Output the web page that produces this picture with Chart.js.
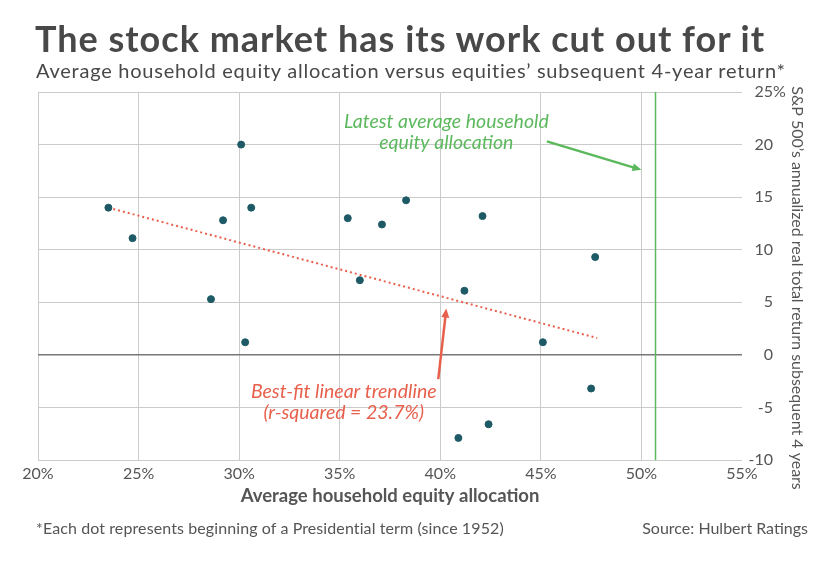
<!DOCTYPE html>
<html>
<head>
<meta charset="utf-8">
<script src="https://cdn.jsdelivr.net/npm/chart.js@4/dist/chart.umd.min.js"></script>
<style>
	body { margin: 0; background: #fff; }
	#wrap { position: relative; width: 831px; height: 566px; font-family: Lato, sans-serif; }
	#wrap canvas { position: absolute; left: 0; top: 0; }
	.txt { position: absolute; white-space: nowrap; line-height: 1; }
	#title { left: 35px; top: 20px; font-size: 36px; font-weight: 700; letter-spacing: 1px; color: #484848; }
	#subtitle { left: 36px; top: 60px; font-size: 20px; letter-spacing: 0.75px; color: #484848; }
	#note { left: 36px; top: 520px; font-size: 16px; letter-spacing: 0.1px; color: #555; }
	#source { right: 23px; top: 520px; font-size: 16px; color: #555; }
</style>
</head>
<body>
<div id="wrap">
	<canvas id="scatter-chart" width="831" height="566"></canvas>
	<div class="txt" id="title">The stock market has its work cut out for it</div>
	<div class="txt" id="subtitle">Average household equity allocation versus equities’ subsequent 4-year return*</div>
	<div class="txt" id="note">*Each dot represents beginning of a Presidential term (since 1952)</div>
	<div class="txt" id="source">Source: Hulbert Ratings</div>
</div>
<script>
// household equity allocation (%) at start of each term
var allocation = [23.5, 24.7, 28.6, 29.2, 30.1, 30.3, 30.6, 35.4, 36.0, 37.1, 38.3, 40.9, 41.2, 42.1, 42.4, 45.1, 47.5, 47.7];
// S&P 500 annualized real total return over next 4 years (%)
var returns = [14.0, 11.1, 5.3, 12.8, 20.0, 1.2, 14.0, 13.0, 7.1, 12.4, 14.7, -7.9, 6.1, 13.2, -6.6, 1.2, -3.2, 9.3];

// best-fit trendline end points
var trendX = [23.5, 47.8];
var trendY = [14.0, 1.6];

// latest average household equity allocation
var latestAllocation = 50.7;

var xTicks = [20, 25, 30, 35, 40, 45, 50, 55];
var yTicks = [-10, -5, 0, 5, 10, 15, 20, 25];

var points = [];
for (var i = 0; i < allocation.length; i++) {
	points.push({ x: allocation[i], y: returns[i] });
}

var trend = [];
for (var j = 0; j < trendX.length; j++) {
	trend.push({ x: trendX[j], y: trendY[j] });
}

var green = "#5cb85c";
var red = "#e8604c";
var grey = "#555";

// text + arrows drawn in data units
var annotations = {
	id: "annotations",
	afterDraw: function(chart) {
		var ctx = chart.ctx;
		var xs = chart.scales.x, ys = chart.scales.y;
		function px(v) { return xs.getPixelForValue(v); }
		function py(v) { return ys.getPixelForValue(v); }

		function arrow(x1, y1, x2, y2, color) {
			var a = Math.atan2(y2 - y1, x2 - x1);
			ctx.save();
			ctx.strokeStyle = color;
			ctx.fillStyle = color;
			ctx.lineWidth = 2.5;
			ctx.beginPath();
			ctx.moveTo(x1, y1);
			ctx.lineTo(x2 - 6 * Math.cos(a), y2 - 6 * Math.sin(a));
			ctx.stroke();
			ctx.beginPath();
			ctx.moveTo(x2, y2);
			ctx.lineTo(x2 - 9 * Math.cos(a) + 4 * Math.sin(a), y2 - 9 * Math.sin(a) - 4 * Math.cos(a));
			ctx.lineTo(x2 - 9 * Math.cos(a) - 4 * Math.sin(a), y2 - 9 * Math.sin(a) + 4 * Math.cos(a));
			ctx.closePath();
			ctx.fill();
			ctx.restore();
		}

		ctx.save();
		ctx.font = "italic 19.5px Lato";
		ctx.textAlign = "center";
		ctx.textBaseline = "middle";
		ctx.fillStyle = green;
		ctx.fillText("Latest average household", px(40.3), py(22.2));
		ctx.fillText("equity allocation", px(40.3), py(20.2));
		ctx.fillStyle = red;
		ctx.fillText("Best-fit linear trendline", px(35.2), py(-3.5));
		ctx.fillText("(r-squared = 23.7%)", px(35.2), py(-5.5));

		// percent sign after the top tick label
		ctx.font = "16px Lato";
		ctx.fillStyle = grey;
		ctx.textAlign = "left";
		ctx.fillText("%", xs.right + 31, py(yTicks[yTicks.length - 1]));

		// right axis title, top to bottom
		ctx.translate(797, (ys.top + ys.bottom) / 2 + 12);
		ctx.rotate(Math.PI / 2);
		ctx.textAlign = "center";
		ctx.fillText("S&P 500’s annualized real total return subsequent 4 years", 0, 0);
		ctx.restore();

		arrow(px(45.3), py(20.3), px(50.0), py(17.6), green);
		arrow(px(39.9), py(-2.3), px(40.3), py(4.4), red);
	}
};

var ctx = document.getElementById("scatter-chart");

var data = {
	datasets : [
		{
			type : "scatter",
			label : "Terms",
			data : points,
			backgroundColor : "#1e5a66",
			borderColor : "#1e5a66",
			pointRadius : 3.5,
			order : 1
		},
		{
			type : "line",
			label : "Trend",
			data : trend,
			borderColor : red,
			borderWidth : 2,
			borderDash : [2, 3],
			pointRadius : 0,
			fill : false,
			order : 2
		},
		{
			type : "line",
			label : "Latest",
			data : [{ x: latestAllocation, y: yTicks[0] }, { x: latestAllocation, y: yTicks[yTicks.length - 1] }],
			borderColor : green,
			borderWidth : 1.5,
			pointRadius : 0,
			fill : false,
			order : 3
		}
	]
};

var options = {
	responsive : false,
	animation : false,
	layout : { padding : { left : 38, top : 92, right : 58, bottom : 56 } },
	plugins : {
		legend : { display : false },
		tooltip : { enabled : false }
	},
	scales : {
		x : {
			type : "linear",
			min : xTicks[0],
			max : xTicks[xTicks.length - 1],
			afterBuildTicks : function(s) { s.ticks = xTicks.map(function(v) { return { value: v }; }); },
			afterFit : function(s) { s.height = 50; },
			border : { display : false },
			grid : {
				drawTicks : false,
				color : function(c) { return c.tick && c.tick.value === 55 ? "rgba(0,0,0,0)" : "#cbcbcb"; }
			},
			ticks : {
				padding : 4,
				color : grey,
				font : { family : "Lato", size : 16 },
				callback : function(v) { return v + "%"; }
			},
			title : {
				display : true,
				text : "Average household equity allocation",
				color : grey,
				font : { family : "Lato", size : 18.5, weight : "bold" },
				padding : { top : 0, bottom : 3 }
			}
		},
		y : {
			type : "linear",
			position : "right",
			min : yTicks[0],
			max : yTicks[yTicks.length - 1],
			afterBuildTicks : function(s) { s.ticks = yTicks.map(function(v) { return { value: v }; }); },
			afterFit : function(s) { s.width = 31; },
			border : { display : false },
			grid : {
				drawTicks : false,
				color : function(c) { return c.tick && c.tick.value === 0 ? "#777" : "#cbcbcb"; },
				lineWidth : function(c) { return c.tick && c.tick.value === 0 ? 1.5 : 1; }
			},
			ticks : {
				padding : 7,
				crossAlign : "far",
				color : grey,
				font : { family : "Lato", size : 16 }
			}
		}
	}
};

var chart = new Chart( ctx, {
	data : data,
	options : options,
	plugins : [annotations]
} );
</script>
</body>
</html>
